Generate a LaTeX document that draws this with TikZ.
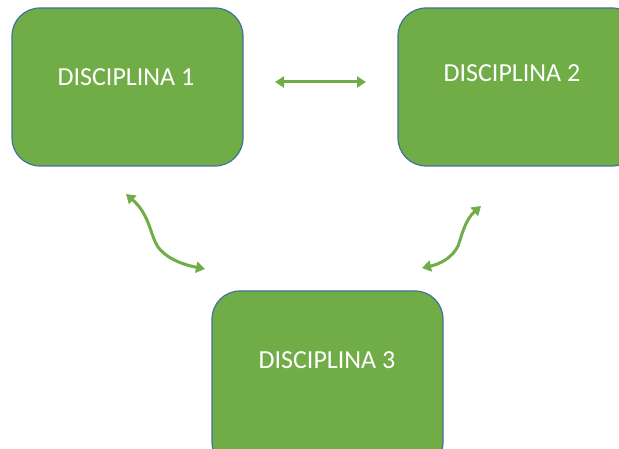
\documentclass[tikz,border=0pt]{standalone}
\usepackage{fontspec}
\setmainfont{Carlito}
\usetikzlibrary{arrows.meta}
\definecolor{boxgreen}{HTML}{70AD47}
\definecolor{boxline}{HTML}{41719C}
\tikzset{
  disc/.style={draw=boxline, line width=1.2pt, fill=boxgreen, rounded corners=28pt},
  disctext/.style={text=white, font=\fontsize{26}{30}\selectfont, inner sep=0pt},
  link/.style={draw=boxgreen, line width=3pt, {Triangle[length=9pt,width=11pt]}-{Triangle[length=9pt,width=11pt]}}
}
\begin{document}
\begin{tikzpicture}[x=1pt,y=-1pt]
\useasboundingbox (0,0) rectangle (619,449);
\path[disc] (12,8) rectangle (243,166);
\path[disc] (398,8) rectangle (640,166);
\path[disc] (212,291) rectangle (443,470);
\node[disctext] (d1) at (126,77) {DISCIPLINA 1};
\node[disctext] (d2) at (512,73) {DISCIPLINA 2};
\node[disctext] (d3) at (327,360) {DISCIPLINA 3};
\coordinate (h1) at (275,82);
\coordinate (h2) at (366,82);
\coordinate (l1) at (126,194);
\coordinate (l2) at (205,269);
\coordinate (r1) at (481,206);
\coordinate (r2) at (422,268);
\draw[link] (h1) -- (h2);
\draw[link] (l1) .. controls (150,215) and (150,235) .. (158,247) .. controls (168,260) and (185,265) .. (l2);
\draw[link] (r1) .. controls (465,220) and (462,235) .. (458,246) .. controls (452,258) and (440,264) .. (r2);
\end{tikzpicture}
\end{document}
